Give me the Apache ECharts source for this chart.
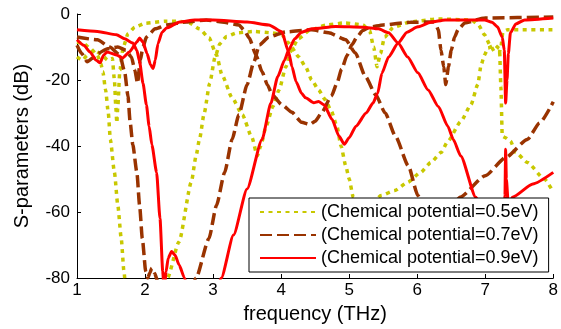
<!DOCTYPE html>
<html>
<head>
<meta charset="utf-8">
<script src="https://cdn.jsdelivr.net/npm/echarts@6/dist/echarts.min.js"></script>
<style>
    html, body { margin: 0; padding: 0; background: #fff; }
    #chart { width: 561px; height: 329px; }
</style>
</head>
<body>
<div id="chart"></div>
<script>
// 图例名称
const legendNames = [
    '(Chemical potential=0.5eV)',
    '(Chemical potential=0.7eV)',
    '(Chemical potential=0.9eV)'
];

// 0.5eV: [频率 THz, dB]
const s21_05 = [[1,-8.5],[1.1,-9],[1.2,-10.5],[1.3,-12.5],[1.35,-15],[1.38,-17.5],[1.42,-23],[1.46,-30],[1.49,-38],[1.55,-48],[1.6,-58],[1.65,-68],[1.69,-78],[1.72,-84],[1.8,-95],[2.1,-95],[2.25,-88],[2.33,-80],[2.5,-69],[2.68,-51],[2.75,-43],[2.8,-38],[2.87,-30],[2.95,-21],[3.03,-13],[3.1,-9],[3.2,-6.8],[3.35,-5.7],[3.6,-5.3],[3.87,-5.7],[4.01,-6.3],[4.11,-8.8],[4.26,-13],[4.36,-16],[4.45,-20],[4.55,-23],[4.65,-26],[4.74,-29.5],[4.82,-34],[4.88,-40],[4.95,-46],[5.0,-50],[5.06,-55.5],[5.25,-60],[5.47,-55],[5.67,-53.5],[5.86,-51],[6.05,-48],[6.2,-45],[6.35,-42],[6.45,-38.6],[6.64,-32.6],[6.79,-27.5],[6.89,-21.4],[6.94,-15.4],[6.99,-12.4],[7.04,-10.3],[7.14,-9.4],[7.21,-10.5],[7.23,-22],[7.25,-37],[7.29,-37.4],[7.37,-38.5],[7.45,-42],[7.62,-45],[7.87,-50],[8,-54]];
const s11_05 = [[1,-13],[1.08,-14],[1.15,-12.5],[1.25,-11],[1.35,-12],[1.45,-14],[1.52,-13.5],[1.55,-20],[1.57,-28],[1.585,-33],[1.6,-28],[1.63,-17],[1.68,-10],[1.75,-6],[1.85,-4],[2.0,-2.8],[2.3,-2.2],[2.5,-2.2],[2.65,-2.7],[2.8,-4.5],[2.94,-7.2],[3.05,-12.4],[3.13,-18.4],[3.28,-25.4],[3.43,-30.5],[3.57,-37.4],[3.65,-43],[3.7,-40],[3.78,-34],[3.88,-28],[3.97,-23],[4.07,-16],[4.15,-11],[4.25,-7.5],[4.43,-4.8],[4.68,-3.3],[4.93,-2.7],[5.2,-3.3],[5.3,-5],[5.36,-10],[5.41,-16],[5.46,-12],[5.52,-7],[5.65,-4],[5.9,-2.4],[6.3,-1.5],[6.8,-1.8],[6.9,-3.3],[6.99,-6.3],[7.07,-9.4],[7.14,-11.5],[7.21,-11.5],[7.23,-10],[7.26,-5.4],[7.33,-4.8],[8,-4.8]];

// 0.7eV
const s21_07 = [[1,-7],[1.3,-7.8],[1.48,-10],[1.63,-12.4],[1.7,-17.5],[1.75,-25],[1.78,-32.6],[1.82,-39.6],[1.88,-48],[1.92,-58],[1.96,-68],[2.01,-78],[2.04,-80],[2.07,-78.5],[2.1,-77],[2.14,-78.5],[2.2,-82],[2.4,-92],[2.62,-88],[2.75,-80],[2.94,-68],[3.05,-58],[3.17,-48],[3.28,-38],[3.38,-30.5],[3.5,-21.4],[3.6,-14.5],[3.68,-9.4],[3.82,-7],[4.07,-5.4],[4.45,-4.8],[4.7,-5.7],[4.95,-7.8],[5.09,-11.8],[5.24,-19],[5.39,-24.5],[5.53,-30],[5.68,-37],[5.87,-46],[6.01,-55],[6.15,-62],[6.3,-65],[6.45,-61],[6.63,-55.5],[7.0,-49],[7.3,-43.5],[7.62,-38],[7.8,-33],[8,-26.6]];
const s11_07 = [[1,-9.5],[1.07,-12],[1.15,-14.5],[1.22,-13.5],[1.3,-12],[1.45,-10.5],[1.6,-10],[1.72,-11],[1.8,-13],[1.85,-17],[1.89,-21],[1.93,-14],[1.97,-10],[2.02,-7],[2.15,-4.5],[2.32,-3.3],[2.61,-2.4],[2.9,-1.8],[3.13,-2.4],[3.38,-3.3],[3.46,-5],[3.53,-7.2],[3.63,-12.4],[3.72,-17.5],[3.8,-21.5],[3.87,-24.5],[4.01,-27.5],[4.16,-29.8],[4.3,-32.8],[4.42,-33.5],[4.5,-32.5],[4.6,-29.8],[4.74,-24.8],[4.82,-21],[4.89,-16.7],[4.97,-12.5],[5.04,-9.3],[5.12,-6.8],[5.2,-5],[5.3,-4],[5.5,-3.3],[5.9,-2.5],[6.26,-2.4],[6.31,-4.8],[6.35,-11],[6.39,-16],[6.42,-21.4],[6.46,-16],[6.5,-11],[6.55,-7],[6.6,-4.8],[6.7,-2.7],[6.99,-1.2],[8,-0.9]];

// 0.9eV
const s21_09 = [[1,-4.8],[1.3,-5.3],[1.58,-6.3],[1.7,-7.5],[1.82,-8.8],[1.88,-11],[1.92,-14.5],[1.97,-21],[2.02,-27.5],[2.06,-34],[2.1,-39.6],[2.17,-48],[2.22,-62],[2.26,-78],[2.28,-84],[2.31,-78],[2.34,-74],[2.39,-72],[2.44,-73],[2.5,-76],[2.58,-80],[2.7,-92],[2.95,-92],[3.12,-80],[3.3,-67],[3.5,-53],[3.72,-38],[3.85,-27],[3.95,-19],[4.05,-14],[4.11,-11],[4.2,-7.5],[4.3,-5.5],[4.45,-4.5],[4.8,-3.8],[5.2,-4],[5.43,-4.5],[5.58,-5.7],[5.72,-8.8],[5.86,-13],[6.01,-17.8],[6.16,-23],[6.31,-28],[6.45,-34],[6.53,-38],[6.64,-43],[6.86,-55.5],[7.05,-65],[7.2,-72],[7.27,-70],[7.29,-55],[7.3,-41],[7.31,-50],[7.34,-58],[7.4,-55.5],[7.7,-51.5],[8,-48]];
const s11_09 = [[1,-7.8],[1.1,-9.5],[1.19,-11.5],[1.28,-14],[1.34,-14.8],[1.39,-12.5],[1.44,-11.5],[1.58,-12.4],[1.67,-13.3],[1.77,-11.5],[1.88,-8.5],[1.92,-7.3],[1.97,-8.5],[2.03,-12],[2.08,-15.4],[2.12,-16.5],[2.15,-14],[2.19,-9],[2.25,-5.5],[2.32,-4.2],[2.51,-2.4],[2.73,-1.8],[3.0,-1.8],[3.5,-2.4],[3.82,-3.3],[4.01,-5.4],[4.11,-11.5],[4.16,-16],[4.22,-20.5],[4.3,-24],[4.36,-25.4],[4.48,-26.9],[4.55,-26.5],[4.63,-27.5],[4.75,-32],[4.85,-37],[4.93,-39.5],[5.0,-37.5],[5.1,-34],[5.25,-30],[5.35,-27],[5.42,-24],[5.48,-18],[5.58,-13],[5.72,-8.8],[5.85,-5.5],[6.01,-3.9],[6.2,-2.5],[6.41,-1.8],[6.99,-1.8],[7.1,-2.5],[7.18,-3.9],[7.25,-7],[7.28,-11],[7.3,-27],[7.32,-20],[7.34,-12],[7.37,-5.7],[7.45,-3],[7.58,-1.8],[8,-1.2]];

const FONT = 'Liberation Sans, Arial, sans-serif';

const chart = echarts.init(document.getElementById('chart'), null, { renderer: 'canvas' });

function lineSeries(name, data, color, dash, width) {
    return {
        name: name,
        type: 'line',
        data: data,
        symbol: 'none',
        smooth: 0.2,
        smoothMonotone: 'x',
        clip: true,
        lineStyle: { color: color, width: width, type: dash, cap: 'butt' },
        itemStyle: { color: color },
        emphasis: { disabled: true }
    };
}

const yellow = '#c8c800';
const brown = '#993300';
const red = '#ff0000';
const dotted = [4, 4.5];
const dashed = [12, 5];

const option = {
    animation: false,
    backgroundColor: '#fff',
    grid: { left: 77, right: 5, top: 14, bottom: 50, containLabel: false },
    legend: {
        data: legendNames,
        orient: 'vertical',
        left: 249,
        top: 198,
        padding: [5, 10, 5, 10],
        itemWidth: 56,
        itemHeight: 14,
        itemGap: 5,
        borderColor: '#000',
        borderWidth: 1,
        backgroundColor: '#fff',
        // 图例只画线, 隐藏圆点
        itemStyle: { color: 'transparent', borderColor: 'transparent', borderWidth: 0, opacity: 0 },
        textStyle: { fontSize: 18, color: '#000', fontFamily: FONT }
    },
    xAxis: {
        type: 'value',
        min: 1,
        max: 8,
        interval: 1,
        name: 'frequency (THz)',
        nameLocation: 'middle',
        nameGap: 26,
        nameTextStyle: { fontSize: 20, color: '#000', fontFamily: FONT },
        axisLine: { show: true, onZero: false, lineStyle: { color: '#000', width: 1 } },
        axisTick: { show: true, inside: true, length: 4, lineStyle: { color: '#000' } },
        axisLabel: { fontSize: 17, color: '#000', fontFamily: FONT, margin: 4 },
        splitLine: { show: false }
    },
    yAxis: {
        type: 'value',
        min: -80,
        max: 0,
        interval: 20,
        name: 'S-parameters (dB)',
        nameLocation: 'middle',
        nameGap: 45,
        nameTextStyle: { fontSize: 20, color: '#000', fontFamily: FONT },
        axisLine: { show: true, onZero: false, lineStyle: { color: '#000', width: 1 } },
        axisTick: { show: true, inside: true, length: 4, lineStyle: { color: '#000' } },
        axisLabel: { fontSize: 17, color: '#000', fontFamily: FONT, margin: 7 },
        splitLine: { show: false }
    },
    series: [
        lineSeries(legendNames[0], s11_05, yellow, dotted, 3.5),
        lineSeries(legendNames[0], s21_05, yellow, dotted, 3.5),
        lineSeries(legendNames[1], s11_07, brown, dashed, 3.5),
        lineSeries(legendNames[1], s21_07, brown, dashed, 3.5),
        lineSeries(legendNames[2], s11_09, red, 'solid', 3),
        lineSeries(legendNames[2], s21_09, red, 'solid', 3)
    ]
};

chart.setOption(option);
</script>
</body>
</html>
